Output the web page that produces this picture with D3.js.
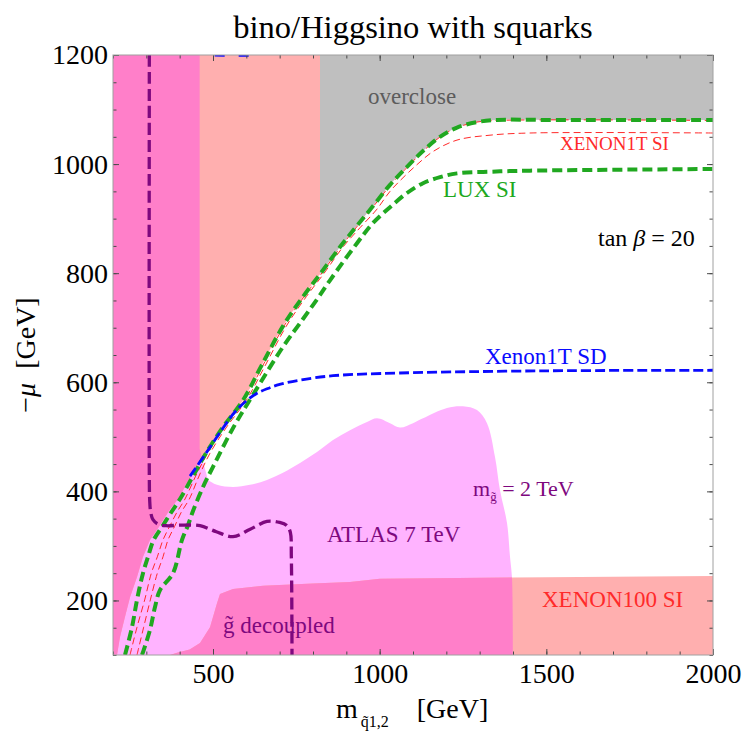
<!DOCTYPE html>
<html>
<head>
<meta charset="utf-8">
<script src="https://cdn.jsdelivr.net/npm/d3@7"></script>
<style>
  body { margin: 0; background: #fff; }
  svg text { font-family: "Liberation Serif", "Times New Roman", serif; }
</style>
</head>
<body>
<svg id="chart" width="746" height="733"></svg>
<script>
// ---- axes ----
const xDomain = [200, 2000];
const yDomain = [100, 1200];
const xTicks = [500, 1000, 1500, 2000];
const yTicks = [200, 400, 600, 800, 1000, 1200];
const xMinorTicks = d3.range(200, 2001, 100);
const yMinorTicks = d3.range(100, 1201, 50);

// ---- contours: [m_squark (GeV), -mu (GeV)] ----
// relic-density band edges (LUX SI)
const luxUpper = [[236,100],[257,151],[272,201],[290,250],[305,280],[322,311],[348,336],[375,362],[401,386],[440,428],[479,470],[530,518],[590,567],[645,630],[710,703],[770,757],[821,798],[881,848],[932,887],[980,923],[1031,962],[1082,995],[1130,1024],[1181,1050],[1232,1067],[1292,1077],[1352,1081],[1500,1081],[2000,1081]];
const luxLower = [[287,100],[311,146],[326,188],[341,219],[380,250],[407,311],[425,338],[440,364],[470,408],[500,445],[560,516],[620,577],[710,665],[770,716],[812,752],[851,787],[932,855],[980,892],[1031,921],[1082,947],[1130,965],[1181,976],[1232,983],[1331,986],[1451,988],[2000,991]];
// XENON1T SI projections
const xenon1tUpper = [[251,100],[272,151],[295,201],[315,250],[333,280],[350,311],[370,336],[392,362],[416,386],[448,428],[484,470],[534,518],[594,567],[649,630],[713,703],[773,757],[824,798],[883,848],[934,887],[982,923],[1033,962],[1084,995],[1131,1024],[1182,1050],[1232,1067],[1292,1077],[1352,1080],[2000,1080]];
const xenon1tLower = [[272,100],[292,151],[312,201],[333,250],[350,280],[365,311],[385,336],[405,362],[429,386],[458,428],[491,470],[541,518],[600,567],[656,630],[720,703],[780,757],[831,798],[890,848],[942,884],[990,916],[1031,950],[1070,975],[1112,999],[1160,1023],[1232,1044],[1331,1053],[1451,1057],[2000,1057]];
// Xenon1T SD projection
const xenon1tSD = [[431,428],[479,470],[530,516],[565,545],[600,566],[630,579],[662,588],[700,596],[761,604],[860,612],[1061,617],[1500,621],[2000,622]];
const xenon1tSDTop = [[505,1199.6],[610,1199.2]];
// gluino-decoupled ATLAS bound
const gluinoDecoupled = [[309,1200],[309,420],[310,385],[313,362],[320,348],[335,340],[360,337],[400,338],[461,337],[510,326],[560,317],[610,330],[662,345],[700,343],[722,337],[732,325],[735,280],[737,100]];

// ---- shaded regions ----
// lower edge of the non-bino-LSP region, below the band
const lspEdge = [[200,100],[212,100],[221,133],[236,170],[251,206],[272,243],[290,280],[311,311],[338,335],[372,368],[393,384],[432,425],[470,466],[479,470]];
const lspCut = 821;           // overclosure starts right of this mass
const atlasBandEdge = 460;    // squark bound for any mu
const atlasBlob = [[485,421],[512,412],[560,408],[611,412],[662,421],[710,434],[761,452],[812,472],[860,494],[911,512],[962,527],[992,534],[1031,525],[1061,517],[1100,525],[1130,534],[1202,553],[1250,556],[1292,549],[1322,525],[1346,463],[1361,402],[1382,342],[1391,280],[1397,241],[1400,100]];
const xenon100Edge = [[371,100],[392,104],[430,110],[461,122],[491,151],[512,195],[521,212],[560,221],[650,227],[800,231],[911,234],[1001,240],[1400,242],[2000,245]];

const colors = {
  atlas: "#ffb3ff", excluded: "#ffafaf", overlap: "#ff7fc9", overclose: "#bfbfbf",
  green: "#20a820", red: "#ff2a2a", blue: "#0a0aff", purple: "#7e087e"
};

const svg = d3.select("#chart");
const margin = { left: 113, top: 55, right: 33, bottom: 78 };
const W = 746, H = 733;
const x = d3.scaleLinear().domain(xDomain).range([margin.left, W - margin.right]);
const y = d3.scaleLinear().domain(yDomain).range([H - margin.bottom, margin.top]);

const defs = svg.append("defs");
defs.append("clipPath").attr("id", "plotClip").append("rect")
  .attr("x", x(xDomain[0])).attr("y", y(yDomain[1]))
  .attr("width", x(xDomain[1]) - x(xDomain[0])).attr("height", y(yDomain[0]) - y(yDomain[1]));

const lin = d3.line().x(d => x(d[0])).y(d => y(d[1]));
const smooth = d3.line().x(d => x(d[0])).y(d => y(d[1])).curve(d3.curveCatmullRom.alpha(0.5));
const cont = (pts) => smooth(pts).replace(/^M/, "L");
const corners = (pts) => pts.map(p => `L${x(p[0])},${y(p[1])}`).join("");

// region paths
const greenToCut = luxUpper.filter(p => p[0] >= 479 && p[0] <= lspCut);
const lspPath = lin(lspEdge) + cont(greenToCut) + corners([[lspCut, 1200], [200, 1200]]) + "Z";
const xenon100Path = lin(xenon100Edge) + corners([[2000, 100]]) + "Z";
const atlasPath = lin([[200, 100], [200, 1200], [atlasBandEdge, 1200], [atlasBandEdge, 478], [472, 450]]) +
  cont(atlasBlob) + "Z";
const greenFromCut = luxUpper.filter(p => p[0] >= lspCut);
const overclosePath = smooth(greenFromCut) + corners([[2000, 1200], [lspCut, 1200]]) + "Z";

// union of the XENON100 and non-LSP regions, to tint the ATLAS overlap
const excl = defs.append("clipPath").attr("id", "exclClip");
excl.append("path").attr("d", lspPath);
excl.append("path").attr("d", xenon100Path);

const plot = svg.append("g").attr("clip-path", "url(#plotClip)");
plot.append("rect").attr("x", x(200)).attr("y", y(1200)).attr("width", x(2000) - x(200))
  .attr("height", y(100) - y(1200)).attr("fill", "#fff");
plot.append("path").attr("d", atlasPath).attr("fill", colors.atlas);
plot.append("path").attr("d", lspPath).attr("fill", colors.excluded);
plot.append("path").attr("d", xenon100Path).attr("fill", colors.excluded);
plot.append("g").attr("clip-path", "url(#exclClip)")
  .append("path").attr("d", atlasPath).attr("fill", colors.overlap);
plot.append("path").attr("d", overclosePath).attr("fill", colors.overclose);

// contour lines
function dashed(pts, color, width, dash) {
  plot.append("path").attr("d", smooth(pts)).attr("fill", "none")
    .attr("stroke", color).attr("stroke-width", width).attr("stroke-dasharray", dash);
}
dashed(xenon1tUpper, colors.red, 1, "7,4");
dashed(xenon1tLower, colors.red, 1, "7,4");
dashed(luxUpper, colors.green, 4, "10,5");
dashed(luxLower, colors.green, 4, "10,5");
dashed(xenon1tSD, colors.blue, 2.8, "10,4");
dashed(xenon1tSDTop, colors.blue, 2.8, "10,14");
dashed(gluinoDecoupled, colors.purple, 3.3, "12,5");

// in-plot labels
function label(txt, px, py, size, color) {
  return svg.append("text").attr("x", px).attr("y", py).attr("font-size", size)
    .attr("fill", color).text(txt);
}
label("overclose", 368, 104, 23, "#5c5c5c");
label("XENON1T SI", 560, 150, 19, colors.red);
label("LUX SI", 443, 197, 23, colors.green);
label("Xenon1T SD", 485, 364, 23, colors.blue);
label("ATLAS 7 TeV", 327, 542, 23, colors.purple);
label("XENON100 SI", 542, 607, 23, colors.red);
label("g\u0303 decoupled", 223, 633, 23, colors.purple);

const tb = svg.append("text").attr("x", 598).attr("y", 246).attr("font-size", 24).attr("fill", "#000");
tb.append("tspan").text("tan ");
tb.append("tspan").attr("font-style", "italic").text("\u03b2");
tb.append("tspan").text(" = 20");

const mg = svg.append("text").attr("x", 473).attr("y", 496).attr("font-size", 22).attr("fill", colors.purple);
mg.append("tspan").text("m");
mg.append("tspan").attr("font-size", 13).attr("dy", 5).text("g\u0303");
mg.append("tspan").attr("dy", -5).text(" = 2 TeV");

// frame and ticks
const axisStyle = g => {
  g.select(".domain").remove();
  g.selectAll(".tick line").attr("stroke", "#4a4a4a");
  g.selectAll("text").attr("font-size", 28).attr("fill", "#000")
    .attr("font-family", "'Liberation Serif','Times New Roman',serif");
};
const plotBottom = y(yDomain[0]), plotTop = y(yDomain[1]);
const plotLeft = x(xDomain[0]), plotRight = x(xDomain[1]);

svg.append("g").attr("transform", `translate(0,${plotBottom})`)
  .call(d3.axisBottom(x).tickValues(xMinorTicks).tickSize(-3.5).tickFormat("")).call(axisStyle);
svg.append("g").attr("transform", `translate(0,${plotBottom})`)
  .call(d3.axisBottom(x).tickValues(xTicks).tickSize(-6).tickPadding(8).tickFormat(d3.format("d"))).call(axisStyle);
svg.append("g").attr("transform", `translate(0,${plotTop})`)
  .call(d3.axisTop(x).tickValues(xMinorTicks).tickSize(-3.5).tickFormat("")).call(axisStyle);
svg.append("g").attr("transform", `translate(0,${plotTop})`)
  .call(d3.axisTop(x).tickValues(xTicks).tickSize(-6).tickFormat("")).call(axisStyle);
svg.append("g").attr("transform", `translate(${plotLeft},0)`)
  .call(d3.axisLeft(y).tickValues(yMinorTicks).tickSize(-3.5).tickFormat("")).call(axisStyle);
svg.append("g").attr("transform", `translate(${plotLeft},0)`)
  .call(d3.axisLeft(y).tickValues(yTicks).tickSize(-6).tickPadding(5).tickFormat(d3.format("d"))).call(axisStyle);
svg.append("g").attr("transform", `translate(${plotRight},0)`)
  .call(d3.axisRight(y).tickValues(yMinorTicks).tickSize(-3.5).tickFormat("")).call(axisStyle);
svg.append("g").attr("transform", `translate(${plotRight},0)`)
  .call(d3.axisRight(y).tickValues(yTicks).tickSize(-6).tickFormat("")).call(axisStyle);

svg.append("rect").attr("x", plotLeft).attr("y", plotTop)
  .attr("width", plotRight - plotLeft).attr("height", plotBottom - plotTop)
  .attr("fill", "none").attr("stroke", "#a0a0a0").attr("stroke-width", 1);

// title and axis titles
svg.append("text").attr("x", (plotLeft + plotRight) / 2).attr("y", 38).attr("text-anchor", "middle")
  .attr("font-size", 32.5).attr("fill", "#000").text("bino/Higgsino with squarks");

const xl = svg.append("text").attr("x", 336).attr("y", 718).attr("font-size", 28).attr("fill", "#000");
xl.append("tspan").text("m");
xl.append("tspan").attr("font-size", 16).attr("dy", 9).attr("dx", 3).text("q\u03031,2");
xl.append("tspan").attr("dy", -9).attr("dx", 28).text("[GeV]");

const yl = svg.append("text").attr("transform", `translate(35,${(plotTop + plotBottom) / 2}) rotate(-90)`)
  .attr("text-anchor", "middle").attr("font-size", 28).attr("fill", "#000");
yl.append("tspan").text("\u2212");
yl.append("tspan").attr("font-style", "italic").text("\u03bc");
yl.append("tspan").attr("dx", 14).text("[GeV]");
</script>
</body>
</html>
